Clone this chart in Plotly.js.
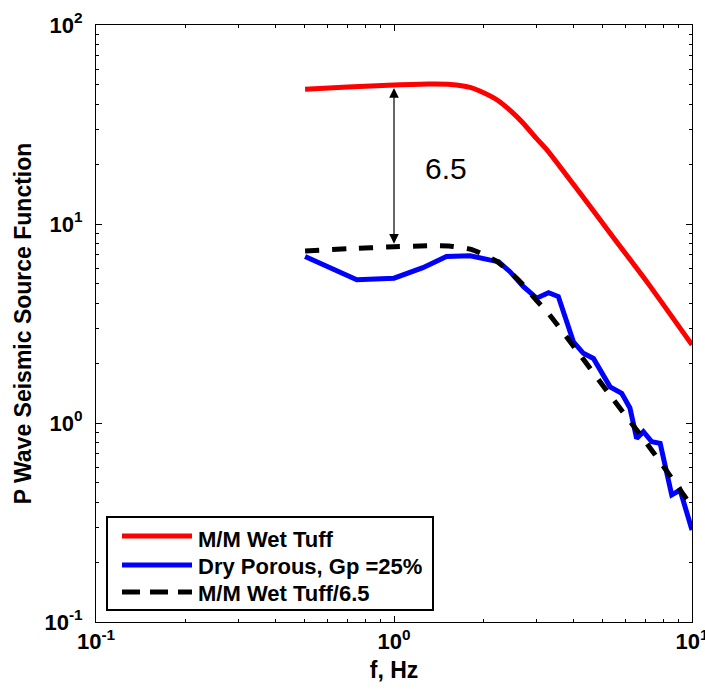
<!DOCTYPE html>
<html>
<head>
<meta charset="utf-8">
<script src="https://cdn.plot.ly/plotly-3.0.1.min.js"></script>
<style>html,body{margin:0;padding:0;background:#fff;}#chart{width:705px;height:690px;}</style>
</head>
<body>
<div id="chart"></div>
<script>
// M/M Wet Tuff (red)
const wetTuffF = [0.503, 0.7, 1.0, 1.3, 1.55, 1.8, 1.94, 2.22, 2.51, 2.71, 3.0, 3.26, 4.21, 5.43, 7.06, 10];
const wetTuffY = [47.6, 48.8, 49.9, 50.5, 50.3, 48.6, 46.6, 42.0, 36.1, 32.2, 27.0, 23.6, 14.3, 8.61, 5.12, 2.47];
// M/M Wet Tuff / 6.5 (black dashed)
const scaledF = [0.503, 0.7, 1.0, 1.3, 1.55, 1.8, 1.94, 2.22, 2.51, 2.71, 3.0, 3.26, 4.21, 5.43, 7.06, 10];
const scaledY = [7.32, 7.51, 7.68, 7.77, 7.74, 7.48, 7.17, 6.46, 5.55, 4.95, 4.15, 3.63, 2.20, 1.32, 0.788, 0.380];
// Dry Porous, Gp = 25% (blue)
const dryF = [0.503, 0.75, 1.0, 1.25, 1.50, 1.80, 2.09, 2.24, 2.45, 2.72, 3.01, 3.30, 3.56, 4.00, 4.32, 4.67, 5.31, 5.81, 6.19, 6.52, 6.87, 7.33, 7.82, 8.55, 9.12, 10];
const dryY = [6.86, 5.24, 5.34, 6.03, 6.86, 6.93, 6.6, 6.47, 5.76, 4.84, 4.24, 4.52, 4.32, 2.56, 2.24, 2.11, 1.52, 1.41, 1.19, 0.837, 0.904, 0.805, 0.79, 0.435, 0.460, 0.29];

const seriesNames = ['M/M Wet Tuff', 'Dry Porous, Gp =25%', 'M/M Wet Tuff/6.5'];
const seriesColors = ['#ff0000', '#0000ff', '#000000'];
const xTickVals = [0.1, 1, 10];
const xTickText = ['10<sup>-1</sup>', '10<sup>0</sup>', '10<sup>1</sup>'];
const yTickVals = [0.1, 1, 10, 100];
const yTickText = ['10<sup>-1</sup>', '10<sup>0</sup>', '10<sup>1</sup>', '10<sup>2</sup>'];
const ratioLabel = '6.5';
const arrowTop = 48.2;
const arrowBottom = 7.83;
const arrowF = 1.0;

function minorVals(lo, hi) {
  const v = [];
  for (let e = lo; e < hi; e++) for (let m = 2; m <= 9; m++) v.push(m * Math.pow(10, e));
  return v;
}

const FONT = 'Liberation Sans, Arial, Helvetica, sans-serif';

const traces = [
  {x: wetTuffF, y: wetTuffY, name: seriesNames[0], mode: 'lines', line: {color: seriesColors[0], width: 5, shape: 'spline', smoothing: 0.6}},
  {x: dryF, y: dryY, name: seriesNames[1], mode: 'lines', line: {color: seriesColors[1], width: 5}},
  {x: scaledF, y: scaledY, name: seriesNames[2], mode: 'lines', line: {color: seriesColors[2], width: 5, dash: '14px,13px', shape: 'spline', smoothing: 0.6}}
];

const axisCommon = {
  type: 'log',
  showline: true, linecolor: '#000', linewidth: 1, mirror: 'allticks',
  ticks: 'inside', ticklen: 6, tickcolor: '#000', tickwidth: 1,
  showgrid: false, zeroline: false,
  tickmode: 'array',
  ticklabeloverflow: 'allow',
  tickfont: {family: FONT, size: 22, color: '#000', weight: 'bold'}
};

// Legend drawn in the plot frame (pixel geometry of plot area: 596 x 597)
const PW = 596, PH = 597, L0 = 96, T0 = 25;
const px = v => (v - L0) / PW;
const py = v => (T0 + PH - v) / PH;
const legRows = [536, 565, 592];
const legTextRows = [539, 566, 593];

const shapes = [
  {type: 'rect', xref: 'paper', yref: 'paper', x0: px(107), x1: px(433), y0: py(610), y1: py(517),
   line: {color: '#000', width: 2}, fillcolor: '#fff', layer: 'above'}
];
const legendAnn = [];
for (let i = 0; i < 3; i++) {
  shapes.push({type: 'line', xref: 'paper', yref: 'paper', x0: px(122), x1: px(192), y0: py(legRows[i]), y1: py(legRows[i]),
    line: {color: seriesColors[i], width: 5, dash: i === 2 ? '18px,10px' : 'solid'}, layer: 'above'});
  legendAnn.push({xref: 'paper', yref: 'paper', x: px(196), y: py(legTextRows[i]), xanchor: 'left', yanchor: 'middle',
    text: seriesNames[i], showarrow: false, font: {family: FONT, size: 22, color: '#000', weight: 'bold'}});
}

const layout = {
  width: 705, height: 690,
  margin: {l: 96, r: 13, t: 25, b: 68},
  paper_bgcolor: '#fff', plot_bgcolor: '#fff',
  font: {family: FONT, color: '#000'},
  showlegend: false,
  xaxis: Object.assign({}, axisCommon, {
    range: [-1, 1],
    tickvals: xTickVals, ticktext: xTickText,
    minor: {tickmode: 'array', tickvals: minorVals(-1, 1), ticks: 'inside', ticklen: 3, tickcolor: '#000', tickwidth: 1},
    title: {text: 'f, Hz', font: {family: FONT, size: 23, color: '#000', weight: 'bold'}, standoff: 8}
  }),
  yaxis: Object.assign({}, axisCommon, {
    range: [-1, 2],
    tickvals: yTickVals, ticktext: yTickText,
    ticklabelstandoff: 8,
    minor: {tickmode: 'array', tickvals: minorVals(-1, 2), ticks: 'inside', ticklen: 3, tickcolor: '#000', tickwidth: 1},
    title: {text: 'P Wave Seismic Source Function', font: {family: FONT, size: 23, color: '#000', weight: 'bold'}, standoff: 6}
  }),
  shapes: shapes,
  annotations: [
    {
      x: Math.log10(arrowF), y: Math.log10(arrowTop), xref: 'x', yref: 'y',
      ax: Math.log10(arrowF), ay: Math.log10(arrowBottom), axref: 'x', ayref: 'y',
      text: '', showarrow: true, arrowside: 'end+start', arrowhead: 2, arrowsize: 1.6,
      arrowwidth: 1.2, arrowcolor: '#000', standoff: 0, startstandoff: 0
    },
    {
      x: 0.1745, y: 1.281, xref: 'x', yref: 'y', text: ratioLabel, showarrow: false,
      font: {family: FONT, size: 30, color: '#000'}
    }
  ].concat(legendAnn)
};

Plotly.newPlot('chart', traces, layout, {displayModeBar: false, staticPlot: true});
</script>
</body>
</html>
